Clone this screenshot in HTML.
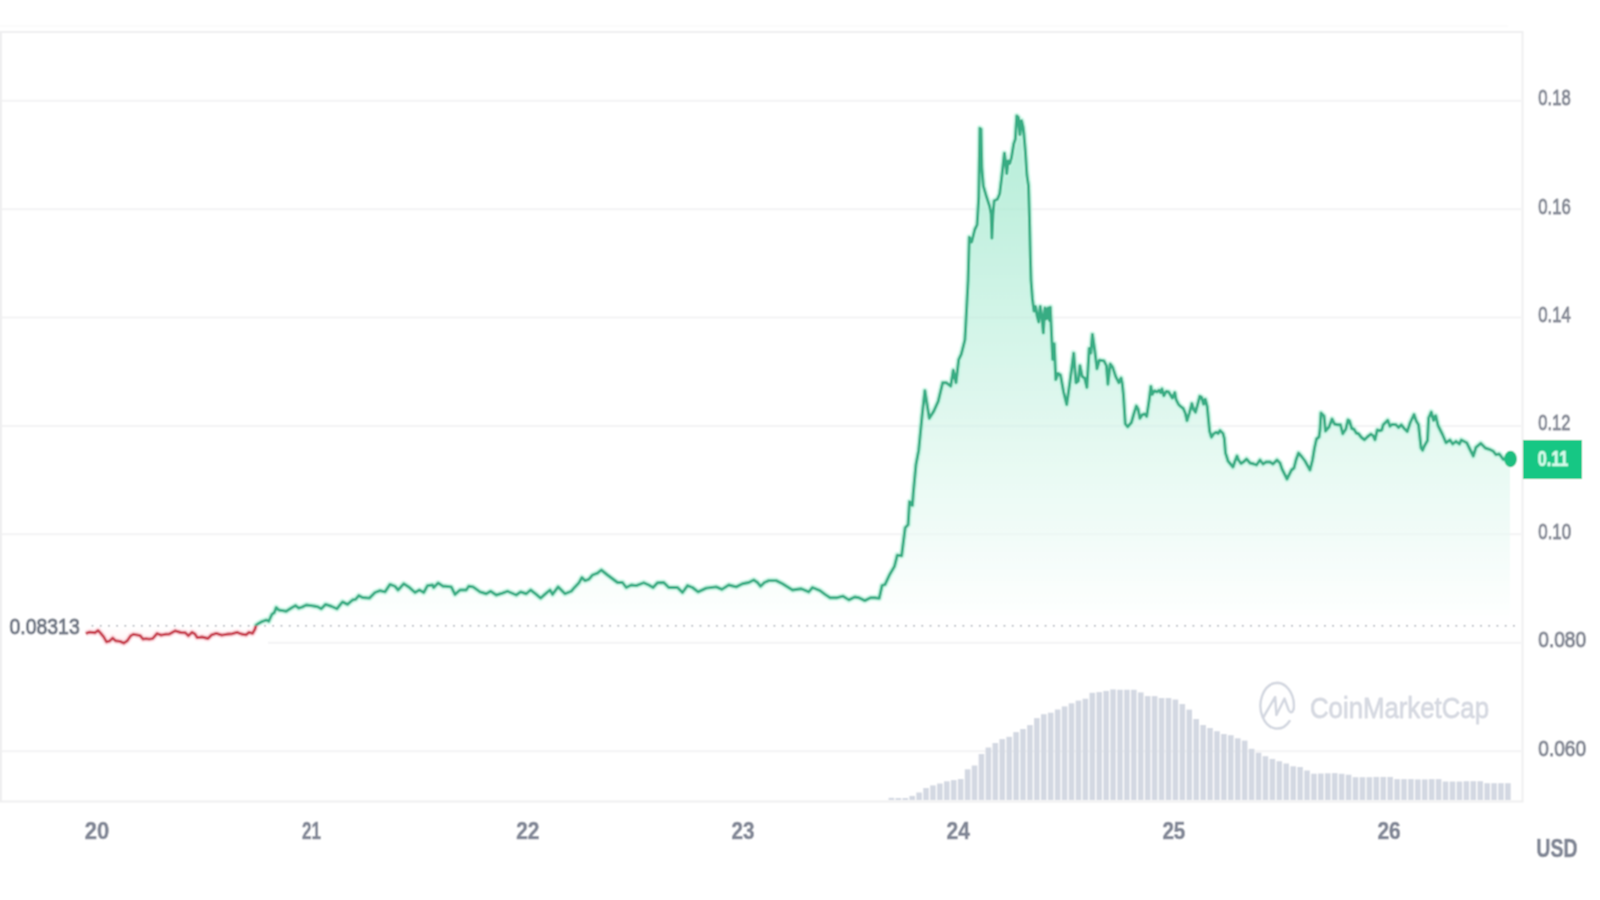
<!DOCTYPE html>
<html><head><meta charset="utf-8"><title>Price chart</title>
<style>
html,body{margin:0;padding:0;background:#fff;width:1600px;height:900px;overflow:hidden}
#wrap{width:1600px;height:900px}
svg{display:block;font-family:"Liberation Sans",Arial,sans-serif}
.grid line{stroke:#f3f3f4;stroke-width:2}
.frame{fill:none;stroke:#efeff0;stroke-width:2}
.vol rect{fill:#d3d8e2}
.yl text{fill:#858a96;stroke:#858a96}
.xl text{fill:#808695;stroke:#808695;font-weight:bold}
</style></head>
<body><div id="wrap">
<svg width="1600" height="900" viewBox="0 0 1600 900">
<defs>
<filter id="soft" x="0" y="0" width="1600" height="900" filterUnits="userSpaceOnUse"><feConvolveMatrix order="3" kernelMatrix="1 2 1 2 4 2 1 2 1" divisor="16" edgeMode="duplicate"/></filter>
<linearGradient id="gg" x1="0" y1="116" x2="0" y2="625.8" gradientUnits="userSpaceOnUse">
<stop offset="0" stop-color="#16c784" stop-opacity="0.32"/>
<stop offset="1" stop-color="#16c784" stop-opacity="0.0"/>
</linearGradient>
<linearGradient id="rg" x1="0" y1="625.8" x2="0" y2="645" gradientUnits="userSpaceOnUse">
<stop offset="0" stop-color="#ea3943" stop-opacity="0.0"/>
<stop offset="1" stop-color="#ea3943" stop-opacity="0.06"/>
</linearGradient>
<clipPath id="above"><rect x="0" y="0" width="1600" height="625.8"/></clipPath>
<clipPath id="below"><rect x="0" y="625.8" width="1600" height="300"/></clipPath>
</defs>
<g filter="url(#soft)">
<rect x="0" y="0" width="1600" height="900" fill="#fff"/>
<g class="grid">
<line x1="2" y1="100.75" x2="1521" y2="100.75"/>
<line x1="2" y1="209.15" x2="1521" y2="209.15"/>
<line x1="2" y1="317.55" x2="1521" y2="317.55"/>
<line x1="2" y1="425.95" x2="1521" y2="425.95"/>
<line x1="2" y1="534.35" x2="1521" y2="534.35"/>
<line x1="268" y1="642.75" x2="1521" y2="642.75"/>
<line x1="2" y1="751.15" x2="1521" y2="751.15"/>
</g>
<path class="frame" d="M1 32 H1522.5 V801.5 H1 Z"/>
<line x1="0" y1="26.2" x2="1508" y2="26.2" stroke="#f9f9f9" stroke-width="1.2"/>
<g class="vol">
<rect x="888.6" y="797.8" width="5.6" height="2.2"/>
<rect x="895.53" y="798" width="5.6" height="2"/>
<rect x="902.45" y="798" width="5.6" height="2"/>
<rect x="909.38" y="795.9" width="5.6" height="4.1"/>
<rect x="916.31" y="792.5" width="5.6" height="7.5"/>
<rect x="923.24" y="788" width="5.6" height="12"/>
<rect x="930.16" y="785.4" width="5.6" height="14.6"/>
<rect x="937.09" y="783.5" width="5.6" height="16.5"/>
<rect x="944.02" y="781.3" width="5.6" height="18.7"/>
<rect x="950.94" y="780.1" width="5.6" height="19.9"/>
<rect x="957.87" y="779" width="5.6" height="21"/>
<rect x="964.8" y="769.3" width="5.6" height="30.7"/>
<rect x="971.72" y="765.5" width="5.6" height="34.5"/>
<rect x="978.65" y="754" width="5.6" height="46"/>
<rect x="985.58" y="747.5" width="5.6" height="52.5"/>
<rect x="992.5" y="743" width="5.6" height="57"/>
<rect x="999.43" y="739.1" width="5.6" height="60.9"/>
<rect x="1006.36" y="736.8" width="5.6" height="63.2"/>
<rect x="1013.29" y="732.1" width="5.6" height="67.9"/>
<rect x="1020.21" y="729" width="5.6" height="71"/>
<rect x="1027.14" y="725.1" width="5.6" height="74.9"/>
<rect x="1034.07" y="718.1" width="5.6" height="81.9"/>
<rect x="1040.99" y="714.2" width="5.6" height="85.8"/>
<rect x="1047.92" y="712.7" width="5.6" height="87.3"/>
<rect x="1054.85" y="709.5" width="5.6" height="90.5"/>
<rect x="1061.78" y="706.4" width="5.6" height="93.6"/>
<rect x="1068.7" y="703.3" width="5.6" height="96.7"/>
<rect x="1075.63" y="700.6" width="5.6" height="99.4"/>
<rect x="1082.56" y="698.7" width="5.6" height="101.3"/>
<rect x="1089.48" y="692.8" width="5.6" height="107.2"/>
<rect x="1096.41" y="692.1" width="5.6" height="107.9"/>
<rect x="1103.34" y="690.9" width="5.6" height="109.1"/>
<rect x="1110.26" y="689.4" width="5.6" height="110.6"/>
<rect x="1117.19" y="689.75" width="5.6" height="110.25"/>
<rect x="1124.12" y="689.75" width="5.6" height="110.25"/>
<rect x="1131.05" y="689.75" width="5.6" height="110.25"/>
<rect x="1137.97" y="692.4" width="5.6" height="107.6"/>
<rect x="1144.9" y="696.1" width="5.6" height="103.9"/>
<rect x="1151.83" y="696.1" width="5.6" height="103.9"/>
<rect x="1158.75" y="698" width="5.6" height="102"/>
<rect x="1165.68" y="698" width="5.6" height="102"/>
<rect x="1172.61" y="699.5" width="5.6" height="100.5"/>
<rect x="1179.53" y="704" width="5.6" height="96"/>
<rect x="1186.46" y="709.6" width="5.6" height="90.4"/>
<rect x="1193.39" y="719" width="5.6" height="81"/>
<rect x="1200.32" y="725" width="5.6" height="75"/>
<rect x="1207.24" y="728" width="5.6" height="72"/>
<rect x="1214.17" y="731.2" width="5.6" height="68.8"/>
<rect x="1221.1" y="734" width="5.6" height="66"/>
<rect x="1228.02" y="735.2" width="5.6" height="64.8"/>
<rect x="1234.95" y="738.3" width="5.6" height="61.7"/>
<rect x="1241.88" y="740.6" width="5.6" height="59.4"/>
<rect x="1248.8" y="748.8" width="5.6" height="51.2"/>
<rect x="1255.73" y="752.7" width="5.6" height="47.3"/>
<rect x="1262.66" y="756.2" width="5.6" height="43.8"/>
<rect x="1269.59" y="758.9" width="5.6" height="41.1"/>
<rect x="1276.51" y="761.2" width="5.6" height="38.8"/>
<rect x="1283.44" y="763.5" width="5.6" height="36.5"/>
<rect x="1290.37" y="766.3" width="5.6" height="33.7"/>
<rect x="1297.29" y="767" width="5.6" height="33"/>
<rect x="1304.22" y="770.5" width="5.6" height="29.5"/>
<rect x="1311.15" y="773.7" width="5.6" height="26.3"/>
<rect x="1318.07" y="773.5" width="5.6" height="26.5"/>
<rect x="1325" y="773.3" width="5.6" height="26.7"/>
<rect x="1331.93" y="773.1" width="5.6" height="26.9"/>
<rect x="1338.86" y="773.75" width="5.6" height="26.25"/>
<rect x="1345.78" y="774.7" width="5.6" height="25.3"/>
<rect x="1352.71" y="777.2" width="5.6" height="22.8"/>
<rect x="1359.64" y="777.2" width="5.6" height="22.8"/>
<rect x="1366.56" y="777.2" width="5.6" height="22.8"/>
<rect x="1373.49" y="776.9" width="5.6" height="23.1"/>
<rect x="1380.42" y="776.9" width="5.6" height="23.1"/>
<rect x="1387.34" y="776.9" width="5.6" height="23.1"/>
<rect x="1394.27" y="779.1" width="5.6" height="20.9"/>
<rect x="1401.2" y="779.1" width="5.6" height="20.9"/>
<rect x="1408.12" y="779.1" width="5.6" height="20.9"/>
<rect x="1415.05" y="779.4" width="5.6" height="20.6"/>
<rect x="1421.98" y="779.4" width="5.6" height="20.6"/>
<rect x="1428.91" y="779.1" width="5.6" height="20.9"/>
<rect x="1435.83" y="779.1" width="5.6" height="20.9"/>
<rect x="1442.76" y="781.5" width="5.6" height="18.5"/>
<rect x="1449.69" y="781.5" width="5.6" height="18.5"/>
<rect x="1456.61" y="781.5" width="5.6" height="18.5"/>
<rect x="1463.54" y="781.2" width="5.6" height="18.8"/>
<rect x="1470.47" y="781.2" width="5.6" height="18.8"/>
<rect x="1477.39" y="781.2" width="5.6" height="18.8"/>
<rect x="1484.32" y="783.2" width="5.6" height="16.8"/>
<rect x="1491.25" y="783.2" width="5.6" height="16.8"/>
<rect x="1498.18" y="783.2" width="5.6" height="16.8"/>
<rect x="1505.1" y="783.2" width="5.6" height="16.8"/>
</g>
<g fill="none" stroke="#d3d7e0" stroke-width="2.5" stroke-linecap="round" stroke-linejoin="round">
<path d="M1289.6 720.95 A16.7 22.8 0 1 1 1293.7 708.9"/>
<path d="M1263.5 717 L1275.2 697 L1276.4 715 L1284.5 698.6 L1288.6 710 Q1290.5 713.5 1292.5 711.5 L1293.7 708.9"/>
</g>
<text transform="translate(1309.97 717.54) scale(0.8773 1)" font-size="29.38" stroke-width="0.88" stroke-linejoin="round" fill="#d6d9e1" stroke="#d6d9e1">CoinMarketCap</text>
<path d="M85.7 633.5 L89.6 632.1 L95.2 632.7 L98.1 630.4 L100.9 633.5 L103.7 636.9 L106.5 641.9 L109.9 640.8 L112.7 638 L115.5 640.8 L120 641.4 L123.9 643.1 L127.3 640.8 L130.7 635.7 L133.5 634.3 L138 635.2 L140.2 635.7 L143.1 639.1 L145.9 638.6 L149.2 639.1 L152.6 638.6 L157.1 633.5 L161.1 635.2 L165 634.3 L169.5 634.1 L175.3 630.8 L180.7 632.5 L185.4 632.8 L188.4 635.8 L192 632.3 L194.9 634 L197.3 637.6 L202.1 637 L208 638.5 L211.6 634.9 L216.3 633.4 L221.7 635.2 L226.4 634.3 L232.4 633.7 L237.1 632.3 L241.3 634 L246 634.9 L249 632.3 L252.5 633.4 L254.9 629.3 L256.1 625.1 L258.5 623.5 L261.25 621.9 L266.25 620 L268.75 621.25 L271.9 614.4 L274.4 612.5 L276.25 607.5 L278.75 610 L282.5 610.6 L286.25 611.25 L291.25 608.1 L295.6 605.6 L298.75 608.1 L302.5 606.9 L306.25 605 L311.25 605.6 L315 606.25 L318.1 606.9 L321.25 608.75 L325.6 604.4 L331.25 606.25 L336.9 608.75 L342.5 601.9 L347.5 604.4 L352.5 600 L355.6 599.4 L358.75 595.6 L362.5 597.5 L369.4 598.1 L375 592.5 L380 590.6 L385 591.9 L390 584.4 L395 586.25 L398.1 590 L403.75 583.75 L408.75 586.9 L415 592.5 L419.4 590 L423.75 592.5 L427.5 585.6 L432.5 585 L433.75 587.5 L438.1 583.1 L443.1 586.25 L445 586.25 L451.25 586.9 L455 594.4 L460 590 L466.25 590 L468.75 586.25 L473.1 586.9 L480 591.9 L486.25 593.75 L490.6 591.25 L496.25 595 L502.5 593.1 L507.5 591.25 L516.25 595 L520.6 591.9 L526.25 593.75 L530.6 590 L536.25 594.4 L540.6 598.1 L546.25 593.1 L550 590 L552.5 594.4 L558.1 586.9 L565 593.75 L571.25 591.25 L575 586.9 L578.75 583.1 L581.9 577.5 L585 580.6 L588.75 579.4 L592.5 575 L597.5 573.1 L601.25 570 L607.5 575 L617.5 582.5 L622.5 582.5 L626.25 587.5 L631.25 585 L636.25 585.6 L643.75 582.75 L648.75 585 L653.1 587.5 L657.5 582.75 L663.75 582.5 L668.75 587.5 L677.5 587.5 L682.5 592.5 L687.5 585.6 L692.5 587.5 L698.1 591.9 L706.25 588.1 L716.25 586.9 L721.9 589.4 L728.75 585 L736.25 586.9 L742.5 583.75 L748.75 582.5 L753.75 580 L757.5 582.5 L760.6 586.25 L764.4 582.5 L768.75 580.6 L776.25 580.6 L782.5 583.75 L792.5 590 L801.25 588.75 L808.75 591.9 L812.5 587.5 L820 590.6 L825 594.4 L830.1 597.7 L837.3 597.7 L843.1 596.2 L848.9 599.9 L854.7 597 L859 597.7 L864.8 600.6 L870.5 597.7 L874.9 597.7 L879.2 598.4 L882.1 585.4 L885 584.7 L889.3 575.3 L894.4 566.6 L897.3 555.1 L901.6 555.8 L905.2 527.7 L908.1 524.8 L909.5 501.7 L912.4 505.3 L913.3 492.9 L916 464.4 L918.7 450.2 L922.2 414.7 L924.9 390.7 L929.3 418.2 L933.8 411.1 L938.2 401.3 L942.7 382.7 L946.2 382.7 L950.7 386.2 L953.3 370.2 L956 382.7 L958.7 359.6 L961.3 354.2 L964.9 340 L965.6 327.8 L968.1 280.6 L969.3 237.3 L971.7 242 L974.8 229.5 L977.1 224.8 L978.7 198.4 L979.9 128.3 L981 129.1 L981.8 167.3 L983.3 185.9 L986.5 196.8 L989.6 206.2 L991.1 214 L991.9 238.1 L993 214 L994.2 200.7 L997.4 199.2 L999.7 193.7 L1002 175 L1004.4 153.2 L1005.9 164.1 L1006.7 173.5 L1008.2 161 L1009.8 163.4 L1011.4 157.9 L1013.7 143.9 L1015.3 139.2 L1016.8 115.9 L1018.4 117.5 L1019.9 134.6 L1021.5 120.6 L1023 126.8 L1023.8 133 L1025.4 151.7 L1026.9 175 L1028.5 185.9 L1029.5 220 L1030.3 255 L1031 280 L1032.4 298.7 L1034 311.1 L1035.6 306.5 L1037.1 315.8 L1038.7 322 L1040.2 306.5 L1041.8 315.8 L1043.3 332.9 L1044.9 308 L1046.5 318.9 L1048 308 L1049.6 320.5 L1050.3 307.2 L1051.9 342.2 L1052.7 359.4 L1054.2 343.8 L1055.8 379.6 L1058.1 373.4 L1060.5 374.9 L1063.6 392 L1066.7 404.5 L1069.8 382.7 L1073.7 353.1 L1076 382.7 L1078.3 381.1 L1079.9 365.6 L1082.2 376.5 L1084.6 378 L1086.9 387.4 L1089.2 348.5 L1090.8 353.1 L1092.4 334.5 L1094.7 350 L1097 368.7 L1099.4 360.1 L1104 360.9 L1106.4 365.6 L1107.9 384.2 L1110.2 364 L1112.6 367.1 L1115.7 376.5 L1118.8 382.7 L1121.1 378 L1122.2 383.4 L1123.4 394.4 L1125.3 423.8 L1127.7 426.8 L1131.4 422.5 L1133.8 414 L1136.3 406.1 L1138.1 409.1 L1139.9 418.3 L1142.4 414.6 L1144.8 414 L1146.7 416.4 L1149.1 400.6 L1150.9 386.5 L1152.2 394.4 L1154.6 390.8 L1157 392 L1158.9 390.2 L1160.7 392.6 L1161.9 388.9 L1163.8 395.7 L1166.2 391.4 L1168.7 392 L1172.3 398.1 L1174.8 392.6 L1176 399.3 L1178.4 404.2 L1180.9 406.7 L1183.3 408.5 L1185.2 412.8 L1187 420.7 L1189.4 412.8 L1191.9 403.6 L1193.7 409.7 L1195.5 412.2 L1197.4 405.4 L1199.8 396.3 L1201.7 397.5 L1203.5 404.2 L1205.3 399.3 L1207.2 406.7 L1208.4 418.9 L1209.6 431.1 L1211.4 437.2 L1213.9 433.5 L1216.3 432.3 L1218.2 433.5 L1220 430.5 L1223 433.5 L1224.3 438.4 L1225.5 453.1 L1226.5 456 L1228 461 L1233 467 L1235 461 L1237 456 L1238.5 460 L1241 463.5 L1244 461.5 L1246.5 459 L1250 463 L1254 464 L1256.5 465 L1260 460 L1263 464 L1266 462 L1270 462 L1273 464 L1277 460 L1280 463 L1282 469 L1287 479 L1290 473 L1291.5 470 L1294 468 L1296 460 L1298.5 453 L1302 457 L1305 461 L1310 470 L1312.5 460 L1314.5 448 L1316.5 439 L1319 437 L1320 430 L1321 413 L1324 416 L1325.5 431 L1329 427 L1332 419 L1334.5 424 L1337.5 424.75 L1340.5 424.75 L1342.75 433.75 L1345.75 429.25 L1348 419.9 L1349.5 421 L1351.75 428.5 L1354 429.25 L1356.25 433 L1358.5 433.75 L1361.5 437.5 L1364.5 439.75 L1367.5 436.75 L1370.9 434.1 L1373.1 435.6 L1375 439.75 L1377.25 430 L1379.5 430.75 L1381.75 430 L1383.25 424.75 L1387.75 420.25 L1390 426.25 L1392.25 424.4 L1396 424.75 L1398.6 427.4 L1401.25 424.75 L1404.25 428.5 L1407.25 431.5 L1410.25 422.5 L1414 414.6 L1416.25 421 L1418.5 424.75 L1420 438.25 L1421.1 448 L1422.6 450.25 L1424.5 445.75 L1427.5 440.5 L1428.6 418 L1431.25 412 L1433.5 420.25 L1435.75 415.75 L1438 425.5 L1442.5 434.5 L1446 442.7 L1450 440 L1452.7 444 L1456 441.3 L1459.3 444 L1461.3 440 L1466.7 442.7 L1469.3 448 L1473.3 456 L1476 447.3 L1480.7 443.3 L1485.3 448 L1489.3 449.3 L1493.3 451.3 L1496 454.7 L1499.3 454 L1503.3 459.3 L1510 459 L1510 625.8 L85.7 625.8 Z" fill="#fff" opacity="0.5" clip-path="url(#above)"/>
<path d="M85.7 633.5 L89.6 632.1 L95.2 632.7 L98.1 630.4 L100.9 633.5 L103.7 636.9 L106.5 641.9 L109.9 640.8 L112.7 638 L115.5 640.8 L120 641.4 L123.9 643.1 L127.3 640.8 L130.7 635.7 L133.5 634.3 L138 635.2 L140.2 635.7 L143.1 639.1 L145.9 638.6 L149.2 639.1 L152.6 638.6 L157.1 633.5 L161.1 635.2 L165 634.3 L169.5 634.1 L175.3 630.8 L180.7 632.5 L185.4 632.8 L188.4 635.8 L192 632.3 L194.9 634 L197.3 637.6 L202.1 637 L208 638.5 L211.6 634.9 L216.3 633.4 L221.7 635.2 L226.4 634.3 L232.4 633.7 L237.1 632.3 L241.3 634 L246 634.9 L249 632.3 L252.5 633.4 L254.9 629.3 L256.1 625.1 L258.5 623.5 L261.25 621.9 L266.25 620 L268.75 621.25 L271.9 614.4 L274.4 612.5 L276.25 607.5 L278.75 610 L282.5 610.6 L286.25 611.25 L291.25 608.1 L295.6 605.6 L298.75 608.1 L302.5 606.9 L306.25 605 L311.25 605.6 L315 606.25 L318.1 606.9 L321.25 608.75 L325.6 604.4 L331.25 606.25 L336.9 608.75 L342.5 601.9 L347.5 604.4 L352.5 600 L355.6 599.4 L358.75 595.6 L362.5 597.5 L369.4 598.1 L375 592.5 L380 590.6 L385 591.9 L390 584.4 L395 586.25 L398.1 590 L403.75 583.75 L408.75 586.9 L415 592.5 L419.4 590 L423.75 592.5 L427.5 585.6 L432.5 585 L433.75 587.5 L438.1 583.1 L443.1 586.25 L445 586.25 L451.25 586.9 L455 594.4 L460 590 L466.25 590 L468.75 586.25 L473.1 586.9 L480 591.9 L486.25 593.75 L490.6 591.25 L496.25 595 L502.5 593.1 L507.5 591.25 L516.25 595 L520.6 591.9 L526.25 593.75 L530.6 590 L536.25 594.4 L540.6 598.1 L546.25 593.1 L550 590 L552.5 594.4 L558.1 586.9 L565 593.75 L571.25 591.25 L575 586.9 L578.75 583.1 L581.9 577.5 L585 580.6 L588.75 579.4 L592.5 575 L597.5 573.1 L601.25 570 L607.5 575 L617.5 582.5 L622.5 582.5 L626.25 587.5 L631.25 585 L636.25 585.6 L643.75 582.75 L648.75 585 L653.1 587.5 L657.5 582.75 L663.75 582.5 L668.75 587.5 L677.5 587.5 L682.5 592.5 L687.5 585.6 L692.5 587.5 L698.1 591.9 L706.25 588.1 L716.25 586.9 L721.9 589.4 L728.75 585 L736.25 586.9 L742.5 583.75 L748.75 582.5 L753.75 580 L757.5 582.5 L760.6 586.25 L764.4 582.5 L768.75 580.6 L776.25 580.6 L782.5 583.75 L792.5 590 L801.25 588.75 L808.75 591.9 L812.5 587.5 L820 590.6 L825 594.4 L830.1 597.7 L837.3 597.7 L843.1 596.2 L848.9 599.9 L854.7 597 L859 597.7 L864.8 600.6 L870.5 597.7 L874.9 597.7 L879.2 598.4 L882.1 585.4 L885 584.7 L889.3 575.3 L894.4 566.6 L897.3 555.1 L901.6 555.8 L905.2 527.7 L908.1 524.8 L909.5 501.7 L912.4 505.3 L913.3 492.9 L916 464.4 L918.7 450.2 L922.2 414.7 L924.9 390.7 L929.3 418.2 L933.8 411.1 L938.2 401.3 L942.7 382.7 L946.2 382.7 L950.7 386.2 L953.3 370.2 L956 382.7 L958.7 359.6 L961.3 354.2 L964.9 340 L965.6 327.8 L968.1 280.6 L969.3 237.3 L971.7 242 L974.8 229.5 L977.1 224.8 L978.7 198.4 L979.9 128.3 L981 129.1 L981.8 167.3 L983.3 185.9 L986.5 196.8 L989.6 206.2 L991.1 214 L991.9 238.1 L993 214 L994.2 200.7 L997.4 199.2 L999.7 193.7 L1002 175 L1004.4 153.2 L1005.9 164.1 L1006.7 173.5 L1008.2 161 L1009.8 163.4 L1011.4 157.9 L1013.7 143.9 L1015.3 139.2 L1016.8 115.9 L1018.4 117.5 L1019.9 134.6 L1021.5 120.6 L1023 126.8 L1023.8 133 L1025.4 151.7 L1026.9 175 L1028.5 185.9 L1029.5 220 L1030.3 255 L1031 280 L1032.4 298.7 L1034 311.1 L1035.6 306.5 L1037.1 315.8 L1038.7 322 L1040.2 306.5 L1041.8 315.8 L1043.3 332.9 L1044.9 308 L1046.5 318.9 L1048 308 L1049.6 320.5 L1050.3 307.2 L1051.9 342.2 L1052.7 359.4 L1054.2 343.8 L1055.8 379.6 L1058.1 373.4 L1060.5 374.9 L1063.6 392 L1066.7 404.5 L1069.8 382.7 L1073.7 353.1 L1076 382.7 L1078.3 381.1 L1079.9 365.6 L1082.2 376.5 L1084.6 378 L1086.9 387.4 L1089.2 348.5 L1090.8 353.1 L1092.4 334.5 L1094.7 350 L1097 368.7 L1099.4 360.1 L1104 360.9 L1106.4 365.6 L1107.9 384.2 L1110.2 364 L1112.6 367.1 L1115.7 376.5 L1118.8 382.7 L1121.1 378 L1122.2 383.4 L1123.4 394.4 L1125.3 423.8 L1127.7 426.8 L1131.4 422.5 L1133.8 414 L1136.3 406.1 L1138.1 409.1 L1139.9 418.3 L1142.4 414.6 L1144.8 414 L1146.7 416.4 L1149.1 400.6 L1150.9 386.5 L1152.2 394.4 L1154.6 390.8 L1157 392 L1158.9 390.2 L1160.7 392.6 L1161.9 388.9 L1163.8 395.7 L1166.2 391.4 L1168.7 392 L1172.3 398.1 L1174.8 392.6 L1176 399.3 L1178.4 404.2 L1180.9 406.7 L1183.3 408.5 L1185.2 412.8 L1187 420.7 L1189.4 412.8 L1191.9 403.6 L1193.7 409.7 L1195.5 412.2 L1197.4 405.4 L1199.8 396.3 L1201.7 397.5 L1203.5 404.2 L1205.3 399.3 L1207.2 406.7 L1208.4 418.9 L1209.6 431.1 L1211.4 437.2 L1213.9 433.5 L1216.3 432.3 L1218.2 433.5 L1220 430.5 L1223 433.5 L1224.3 438.4 L1225.5 453.1 L1226.5 456 L1228 461 L1233 467 L1235 461 L1237 456 L1238.5 460 L1241 463.5 L1244 461.5 L1246.5 459 L1250 463 L1254 464 L1256.5 465 L1260 460 L1263 464 L1266 462 L1270 462 L1273 464 L1277 460 L1280 463 L1282 469 L1287 479 L1290 473 L1291.5 470 L1294 468 L1296 460 L1298.5 453 L1302 457 L1305 461 L1310 470 L1312.5 460 L1314.5 448 L1316.5 439 L1319 437 L1320 430 L1321 413 L1324 416 L1325.5 431 L1329 427 L1332 419 L1334.5 424 L1337.5 424.75 L1340.5 424.75 L1342.75 433.75 L1345.75 429.25 L1348 419.9 L1349.5 421 L1351.75 428.5 L1354 429.25 L1356.25 433 L1358.5 433.75 L1361.5 437.5 L1364.5 439.75 L1367.5 436.75 L1370.9 434.1 L1373.1 435.6 L1375 439.75 L1377.25 430 L1379.5 430.75 L1381.75 430 L1383.25 424.75 L1387.75 420.25 L1390 426.25 L1392.25 424.4 L1396 424.75 L1398.6 427.4 L1401.25 424.75 L1404.25 428.5 L1407.25 431.5 L1410.25 422.5 L1414 414.6 L1416.25 421 L1418.5 424.75 L1420 438.25 L1421.1 448 L1422.6 450.25 L1424.5 445.75 L1427.5 440.5 L1428.6 418 L1431.25 412 L1433.5 420.25 L1435.75 415.75 L1438 425.5 L1442.5 434.5 L1446 442.7 L1450 440 L1452.7 444 L1456 441.3 L1459.3 444 L1461.3 440 L1466.7 442.7 L1469.3 448 L1473.3 456 L1476 447.3 L1480.7 443.3 L1485.3 448 L1489.3 449.3 L1493.3 451.3 L1496 454.7 L1499.3 454 L1503.3 459.3 L1510 459 L1510 625.8 L85.7 625.8 Z" fill="url(#gg)" clip-path="url(#above)"/>
<path d="M85.7 633.5 L89.6 632.1 L95.2 632.7 L98.1 630.4 L100.9 633.5 L103.7 636.9 L106.5 641.9 L109.9 640.8 L112.7 638 L115.5 640.8 L120 641.4 L123.9 643.1 L127.3 640.8 L130.7 635.7 L133.5 634.3 L138 635.2 L140.2 635.7 L143.1 639.1 L145.9 638.6 L149.2 639.1 L152.6 638.6 L157.1 633.5 L161.1 635.2 L165 634.3 L169.5 634.1 L175.3 630.8 L180.7 632.5 L185.4 632.8 L188.4 635.8 L192 632.3 L194.9 634 L197.3 637.6 L202.1 637 L208 638.5 L211.6 634.9 L216.3 633.4 L221.7 635.2 L226.4 634.3 L232.4 633.7 L237.1 632.3 L241.3 634 L246 634.9 L249 632.3 L252.5 633.4 L254.9 629.3 L256.1 625.1 L258.5 623.5 L261.25 621.9 L266.25 620 L268.75 621.25 L271.9 614.4 L274.4 612.5 L276.25 607.5 L278.75 610 L282.5 610.6 L286.25 611.25 L291.25 608.1 L295.6 605.6 L298.75 608.1 L302.5 606.9 L306.25 605 L311.25 605.6 L315 606.25 L318.1 606.9 L321.25 608.75 L325.6 604.4 L331.25 606.25 L336.9 608.75 L342.5 601.9 L347.5 604.4 L352.5 600 L355.6 599.4 L358.75 595.6 L362.5 597.5 L369.4 598.1 L375 592.5 L380 590.6 L385 591.9 L390 584.4 L395 586.25 L398.1 590 L403.75 583.75 L408.75 586.9 L415 592.5 L419.4 590 L423.75 592.5 L427.5 585.6 L432.5 585 L433.75 587.5 L438.1 583.1 L443.1 586.25 L445 586.25 L451.25 586.9 L455 594.4 L460 590 L466.25 590 L468.75 586.25 L473.1 586.9 L480 591.9 L486.25 593.75 L490.6 591.25 L496.25 595 L502.5 593.1 L507.5 591.25 L516.25 595 L520.6 591.9 L526.25 593.75 L530.6 590 L536.25 594.4 L540.6 598.1 L546.25 593.1 L550 590 L552.5 594.4 L558.1 586.9 L565 593.75 L571.25 591.25 L575 586.9 L578.75 583.1 L581.9 577.5 L585 580.6 L588.75 579.4 L592.5 575 L597.5 573.1 L601.25 570 L607.5 575 L617.5 582.5 L622.5 582.5 L626.25 587.5 L631.25 585 L636.25 585.6 L643.75 582.75 L648.75 585 L653.1 587.5 L657.5 582.75 L663.75 582.5 L668.75 587.5 L677.5 587.5 L682.5 592.5 L687.5 585.6 L692.5 587.5 L698.1 591.9 L706.25 588.1 L716.25 586.9 L721.9 589.4 L728.75 585 L736.25 586.9 L742.5 583.75 L748.75 582.5 L753.75 580 L757.5 582.5 L760.6 586.25 L764.4 582.5 L768.75 580.6 L776.25 580.6 L782.5 583.75 L792.5 590 L801.25 588.75 L808.75 591.9 L812.5 587.5 L820 590.6 L825 594.4 L830.1 597.7 L837.3 597.7 L843.1 596.2 L848.9 599.9 L854.7 597 L859 597.7 L864.8 600.6 L870.5 597.7 L874.9 597.7 L879.2 598.4 L882.1 585.4 L885 584.7 L889.3 575.3 L894.4 566.6 L897.3 555.1 L901.6 555.8 L905.2 527.7 L908.1 524.8 L909.5 501.7 L912.4 505.3 L913.3 492.9 L916 464.4 L918.7 450.2 L922.2 414.7 L924.9 390.7 L929.3 418.2 L933.8 411.1 L938.2 401.3 L942.7 382.7 L946.2 382.7 L950.7 386.2 L953.3 370.2 L956 382.7 L958.7 359.6 L961.3 354.2 L964.9 340 L965.6 327.8 L968.1 280.6 L969.3 237.3 L971.7 242 L974.8 229.5 L977.1 224.8 L978.7 198.4 L979.9 128.3 L981 129.1 L981.8 167.3 L983.3 185.9 L986.5 196.8 L989.6 206.2 L991.1 214 L991.9 238.1 L993 214 L994.2 200.7 L997.4 199.2 L999.7 193.7 L1002 175 L1004.4 153.2 L1005.9 164.1 L1006.7 173.5 L1008.2 161 L1009.8 163.4 L1011.4 157.9 L1013.7 143.9 L1015.3 139.2 L1016.8 115.9 L1018.4 117.5 L1019.9 134.6 L1021.5 120.6 L1023 126.8 L1023.8 133 L1025.4 151.7 L1026.9 175 L1028.5 185.9 L1029.5 220 L1030.3 255 L1031 280 L1032.4 298.7 L1034 311.1 L1035.6 306.5 L1037.1 315.8 L1038.7 322 L1040.2 306.5 L1041.8 315.8 L1043.3 332.9 L1044.9 308 L1046.5 318.9 L1048 308 L1049.6 320.5 L1050.3 307.2 L1051.9 342.2 L1052.7 359.4 L1054.2 343.8 L1055.8 379.6 L1058.1 373.4 L1060.5 374.9 L1063.6 392 L1066.7 404.5 L1069.8 382.7 L1073.7 353.1 L1076 382.7 L1078.3 381.1 L1079.9 365.6 L1082.2 376.5 L1084.6 378 L1086.9 387.4 L1089.2 348.5 L1090.8 353.1 L1092.4 334.5 L1094.7 350 L1097 368.7 L1099.4 360.1 L1104 360.9 L1106.4 365.6 L1107.9 384.2 L1110.2 364 L1112.6 367.1 L1115.7 376.5 L1118.8 382.7 L1121.1 378 L1122.2 383.4 L1123.4 394.4 L1125.3 423.8 L1127.7 426.8 L1131.4 422.5 L1133.8 414 L1136.3 406.1 L1138.1 409.1 L1139.9 418.3 L1142.4 414.6 L1144.8 414 L1146.7 416.4 L1149.1 400.6 L1150.9 386.5 L1152.2 394.4 L1154.6 390.8 L1157 392 L1158.9 390.2 L1160.7 392.6 L1161.9 388.9 L1163.8 395.7 L1166.2 391.4 L1168.7 392 L1172.3 398.1 L1174.8 392.6 L1176 399.3 L1178.4 404.2 L1180.9 406.7 L1183.3 408.5 L1185.2 412.8 L1187 420.7 L1189.4 412.8 L1191.9 403.6 L1193.7 409.7 L1195.5 412.2 L1197.4 405.4 L1199.8 396.3 L1201.7 397.5 L1203.5 404.2 L1205.3 399.3 L1207.2 406.7 L1208.4 418.9 L1209.6 431.1 L1211.4 437.2 L1213.9 433.5 L1216.3 432.3 L1218.2 433.5 L1220 430.5 L1223 433.5 L1224.3 438.4 L1225.5 453.1 L1226.5 456 L1228 461 L1233 467 L1235 461 L1237 456 L1238.5 460 L1241 463.5 L1244 461.5 L1246.5 459 L1250 463 L1254 464 L1256.5 465 L1260 460 L1263 464 L1266 462 L1270 462 L1273 464 L1277 460 L1280 463 L1282 469 L1287 479 L1290 473 L1291.5 470 L1294 468 L1296 460 L1298.5 453 L1302 457 L1305 461 L1310 470 L1312.5 460 L1314.5 448 L1316.5 439 L1319 437 L1320 430 L1321 413 L1324 416 L1325.5 431 L1329 427 L1332 419 L1334.5 424 L1337.5 424.75 L1340.5 424.75 L1342.75 433.75 L1345.75 429.25 L1348 419.9 L1349.5 421 L1351.75 428.5 L1354 429.25 L1356.25 433 L1358.5 433.75 L1361.5 437.5 L1364.5 439.75 L1367.5 436.75 L1370.9 434.1 L1373.1 435.6 L1375 439.75 L1377.25 430 L1379.5 430.75 L1381.75 430 L1383.25 424.75 L1387.75 420.25 L1390 426.25 L1392.25 424.4 L1396 424.75 L1398.6 427.4 L1401.25 424.75 L1404.25 428.5 L1407.25 431.5 L1410.25 422.5 L1414 414.6 L1416.25 421 L1418.5 424.75 L1420 438.25 L1421.1 448 L1422.6 450.25 L1424.5 445.75 L1427.5 440.5 L1428.6 418 L1431.25 412 L1433.5 420.25 L1435.75 415.75 L1438 425.5 L1442.5 434.5 L1446 442.7 L1450 440 L1452.7 444 L1456 441.3 L1459.3 444 L1461.3 440 L1466.7 442.7 L1469.3 448 L1473.3 456 L1476 447.3 L1480.7 443.3 L1485.3 448 L1489.3 449.3 L1493.3 451.3 L1496 454.7 L1499.3 454 L1503.3 459.3 L1510 459 L1510 625.8 L85.7 625.8 Z" fill="url(#rg)" clip-path="url(#below)"/>
<line x1="91.7" y1="625.8" x2="1515" y2="625.8" stroke="#9aa0aa" stroke-width="1.6" stroke-dasharray="1.6 6.616"/>
<path d="M85.7 633.5 L89.6 632.1 L95.2 632.7 L98.1 630.4 L100.9 633.5 L103.7 636.9 L106.5 641.9 L109.9 640.8 L112.7 638 L115.5 640.8 L120 641.4 L123.9 643.1 L127.3 640.8 L130.7 635.7 L133.5 634.3 L138 635.2 L140.2 635.7 L143.1 639.1 L145.9 638.6 L149.2 639.1 L152.6 638.6 L157.1 633.5 L161.1 635.2 L165 634.3 L169.5 634.1 L175.3 630.8 L180.7 632.5 L185.4 632.8 L188.4 635.8 L192 632.3 L194.9 634 L197.3 637.6 L202.1 637 L208 638.5 L211.6 634.9 L216.3 633.4 L221.7 635.2 L226.4 634.3 L232.4 633.7 L237.1 632.3 L241.3 634 L246 634.9 L249 632.3 L252.5 633.4 L254.9 629.3 L256.1 625.1 L258.5 623.5 L261.25 621.9 L266.25 620 L268.75 621.25 L271.9 614.4 L274.4 612.5 L276.25 607.5 L278.75 610 L282.5 610.6 L286.25 611.25 L291.25 608.1 L295.6 605.6 L298.75 608.1 L302.5 606.9 L306.25 605 L311.25 605.6 L315 606.25 L318.1 606.9 L321.25 608.75 L325.6 604.4 L331.25 606.25 L336.9 608.75 L342.5 601.9 L347.5 604.4 L352.5 600 L355.6 599.4 L358.75 595.6 L362.5 597.5 L369.4 598.1 L375 592.5 L380 590.6 L385 591.9 L390 584.4 L395 586.25 L398.1 590 L403.75 583.75 L408.75 586.9 L415 592.5 L419.4 590 L423.75 592.5 L427.5 585.6 L432.5 585 L433.75 587.5 L438.1 583.1 L443.1 586.25 L445 586.25 L451.25 586.9 L455 594.4 L460 590 L466.25 590 L468.75 586.25 L473.1 586.9 L480 591.9 L486.25 593.75 L490.6 591.25 L496.25 595 L502.5 593.1 L507.5 591.25 L516.25 595 L520.6 591.9 L526.25 593.75 L530.6 590 L536.25 594.4 L540.6 598.1 L546.25 593.1 L550 590 L552.5 594.4 L558.1 586.9 L565 593.75 L571.25 591.25 L575 586.9 L578.75 583.1 L581.9 577.5 L585 580.6 L588.75 579.4 L592.5 575 L597.5 573.1 L601.25 570 L607.5 575 L617.5 582.5 L622.5 582.5 L626.25 587.5 L631.25 585 L636.25 585.6 L643.75 582.75 L648.75 585 L653.1 587.5 L657.5 582.75 L663.75 582.5 L668.75 587.5 L677.5 587.5 L682.5 592.5 L687.5 585.6 L692.5 587.5 L698.1 591.9 L706.25 588.1 L716.25 586.9 L721.9 589.4 L728.75 585 L736.25 586.9 L742.5 583.75 L748.75 582.5 L753.75 580 L757.5 582.5 L760.6 586.25 L764.4 582.5 L768.75 580.6 L776.25 580.6 L782.5 583.75 L792.5 590 L801.25 588.75 L808.75 591.9 L812.5 587.5 L820 590.6 L825 594.4 L830.1 597.7 L837.3 597.7 L843.1 596.2 L848.9 599.9 L854.7 597 L859 597.7 L864.8 600.6 L870.5 597.7 L874.9 597.7 L879.2 598.4 L882.1 585.4 L885 584.7 L889.3 575.3 L894.4 566.6 L897.3 555.1 L901.6 555.8 L905.2 527.7 L908.1 524.8 L909.5 501.7 L912.4 505.3 L913.3 492.9 L916 464.4 L918.7 450.2 L922.2 414.7 L924.9 390.7 L929.3 418.2 L933.8 411.1 L938.2 401.3 L942.7 382.7 L946.2 382.7 L950.7 386.2 L953.3 370.2 L956 382.7 L958.7 359.6 L961.3 354.2 L964.9 340 L965.6 327.8 L968.1 280.6 L969.3 237.3 L971.7 242 L974.8 229.5 L977.1 224.8 L978.7 198.4 L979.9 128.3 L981 129.1 L981.8 167.3 L983.3 185.9 L986.5 196.8 L989.6 206.2 L991.1 214 L991.9 238.1 L993 214 L994.2 200.7 L997.4 199.2 L999.7 193.7 L1002 175 L1004.4 153.2 L1005.9 164.1 L1006.7 173.5 L1008.2 161 L1009.8 163.4 L1011.4 157.9 L1013.7 143.9 L1015.3 139.2 L1016.8 115.9 L1018.4 117.5 L1019.9 134.6 L1021.5 120.6 L1023 126.8 L1023.8 133 L1025.4 151.7 L1026.9 175 L1028.5 185.9 L1029.5 220 L1030.3 255 L1031 280 L1032.4 298.7 L1034 311.1 L1035.6 306.5 L1037.1 315.8 L1038.7 322 L1040.2 306.5 L1041.8 315.8 L1043.3 332.9 L1044.9 308 L1046.5 318.9 L1048 308 L1049.6 320.5 L1050.3 307.2 L1051.9 342.2 L1052.7 359.4 L1054.2 343.8 L1055.8 379.6 L1058.1 373.4 L1060.5 374.9 L1063.6 392 L1066.7 404.5 L1069.8 382.7 L1073.7 353.1 L1076 382.7 L1078.3 381.1 L1079.9 365.6 L1082.2 376.5 L1084.6 378 L1086.9 387.4 L1089.2 348.5 L1090.8 353.1 L1092.4 334.5 L1094.7 350 L1097 368.7 L1099.4 360.1 L1104 360.9 L1106.4 365.6 L1107.9 384.2 L1110.2 364 L1112.6 367.1 L1115.7 376.5 L1118.8 382.7 L1121.1 378 L1122.2 383.4 L1123.4 394.4 L1125.3 423.8 L1127.7 426.8 L1131.4 422.5 L1133.8 414 L1136.3 406.1 L1138.1 409.1 L1139.9 418.3 L1142.4 414.6 L1144.8 414 L1146.7 416.4 L1149.1 400.6 L1150.9 386.5 L1152.2 394.4 L1154.6 390.8 L1157 392 L1158.9 390.2 L1160.7 392.6 L1161.9 388.9 L1163.8 395.7 L1166.2 391.4 L1168.7 392 L1172.3 398.1 L1174.8 392.6 L1176 399.3 L1178.4 404.2 L1180.9 406.7 L1183.3 408.5 L1185.2 412.8 L1187 420.7 L1189.4 412.8 L1191.9 403.6 L1193.7 409.7 L1195.5 412.2 L1197.4 405.4 L1199.8 396.3 L1201.7 397.5 L1203.5 404.2 L1205.3 399.3 L1207.2 406.7 L1208.4 418.9 L1209.6 431.1 L1211.4 437.2 L1213.9 433.5 L1216.3 432.3 L1218.2 433.5 L1220 430.5 L1223 433.5 L1224.3 438.4 L1225.5 453.1 L1226.5 456 L1228 461 L1233 467 L1235 461 L1237 456 L1238.5 460 L1241 463.5 L1244 461.5 L1246.5 459 L1250 463 L1254 464 L1256.5 465 L1260 460 L1263 464 L1266 462 L1270 462 L1273 464 L1277 460 L1280 463 L1282 469 L1287 479 L1290 473 L1291.5 470 L1294 468 L1296 460 L1298.5 453 L1302 457 L1305 461 L1310 470 L1312.5 460 L1314.5 448 L1316.5 439 L1319 437 L1320 430 L1321 413 L1324 416 L1325.5 431 L1329 427 L1332 419 L1334.5 424 L1337.5 424.75 L1340.5 424.75 L1342.75 433.75 L1345.75 429.25 L1348 419.9 L1349.5 421 L1351.75 428.5 L1354 429.25 L1356.25 433 L1358.5 433.75 L1361.5 437.5 L1364.5 439.75 L1367.5 436.75 L1370.9 434.1 L1373.1 435.6 L1375 439.75 L1377.25 430 L1379.5 430.75 L1381.75 430 L1383.25 424.75 L1387.75 420.25 L1390 426.25 L1392.25 424.4 L1396 424.75 L1398.6 427.4 L1401.25 424.75 L1404.25 428.5 L1407.25 431.5 L1410.25 422.5 L1414 414.6 L1416.25 421 L1418.5 424.75 L1420 438.25 L1421.1 448 L1422.6 450.25 L1424.5 445.75 L1427.5 440.5 L1428.6 418 L1431.25 412 L1433.5 420.25 L1435.75 415.75 L1438 425.5 L1442.5 434.5 L1446 442.7 L1450 440 L1452.7 444 L1456 441.3 L1459.3 444 L1461.3 440 L1466.7 442.7 L1469.3 448 L1473.3 456 L1476 447.3 L1480.7 443.3 L1485.3 448 L1489.3 449.3 L1493.3 451.3 L1496 454.7 L1499.3 454 L1503.3 459.3 L1510 459" fill="none" stroke="#c2f6e2" stroke-width="6.5" stroke-linejoin="round" opacity="0.7" clip-path="url(#above)"/>
<path d="M85.7 633.5 L89.6 632.1 L95.2 632.7 L98.1 630.4 L100.9 633.5 L103.7 636.9 L106.5 641.9 L109.9 640.8 L112.7 638 L115.5 640.8 L120 641.4 L123.9 643.1 L127.3 640.8 L130.7 635.7 L133.5 634.3 L138 635.2 L140.2 635.7 L143.1 639.1 L145.9 638.6 L149.2 639.1 L152.6 638.6 L157.1 633.5 L161.1 635.2 L165 634.3 L169.5 634.1 L175.3 630.8 L180.7 632.5 L185.4 632.8 L188.4 635.8 L192 632.3 L194.9 634 L197.3 637.6 L202.1 637 L208 638.5 L211.6 634.9 L216.3 633.4 L221.7 635.2 L226.4 634.3 L232.4 633.7 L237.1 632.3 L241.3 634 L246 634.9 L249 632.3 L252.5 633.4 L254.9 629.3 L256.1 625.1 L258.5 623.5 L261.25 621.9 L266.25 620 L268.75 621.25 L271.9 614.4 L274.4 612.5 L276.25 607.5 L278.75 610 L282.5 610.6 L286.25 611.25 L291.25 608.1 L295.6 605.6 L298.75 608.1 L302.5 606.9 L306.25 605 L311.25 605.6 L315 606.25 L318.1 606.9 L321.25 608.75 L325.6 604.4 L331.25 606.25 L336.9 608.75 L342.5 601.9 L347.5 604.4 L352.5 600 L355.6 599.4 L358.75 595.6 L362.5 597.5 L369.4 598.1 L375 592.5 L380 590.6 L385 591.9 L390 584.4 L395 586.25 L398.1 590 L403.75 583.75 L408.75 586.9 L415 592.5 L419.4 590 L423.75 592.5 L427.5 585.6 L432.5 585 L433.75 587.5 L438.1 583.1 L443.1 586.25 L445 586.25 L451.25 586.9 L455 594.4 L460 590 L466.25 590 L468.75 586.25 L473.1 586.9 L480 591.9 L486.25 593.75 L490.6 591.25 L496.25 595 L502.5 593.1 L507.5 591.25 L516.25 595 L520.6 591.9 L526.25 593.75 L530.6 590 L536.25 594.4 L540.6 598.1 L546.25 593.1 L550 590 L552.5 594.4 L558.1 586.9 L565 593.75 L571.25 591.25 L575 586.9 L578.75 583.1 L581.9 577.5 L585 580.6 L588.75 579.4 L592.5 575 L597.5 573.1 L601.25 570 L607.5 575 L617.5 582.5 L622.5 582.5 L626.25 587.5 L631.25 585 L636.25 585.6 L643.75 582.75 L648.75 585 L653.1 587.5 L657.5 582.75 L663.75 582.5 L668.75 587.5 L677.5 587.5 L682.5 592.5 L687.5 585.6 L692.5 587.5 L698.1 591.9 L706.25 588.1 L716.25 586.9 L721.9 589.4 L728.75 585 L736.25 586.9 L742.5 583.75 L748.75 582.5 L753.75 580 L757.5 582.5 L760.6 586.25 L764.4 582.5 L768.75 580.6 L776.25 580.6 L782.5 583.75 L792.5 590 L801.25 588.75 L808.75 591.9 L812.5 587.5 L820 590.6 L825 594.4 L830.1 597.7 L837.3 597.7 L843.1 596.2 L848.9 599.9 L854.7 597 L859 597.7 L864.8 600.6 L870.5 597.7 L874.9 597.7 L879.2 598.4 L882.1 585.4 L885 584.7 L889.3 575.3 L894.4 566.6 L897.3 555.1 L901.6 555.8 L905.2 527.7 L908.1 524.8 L909.5 501.7 L912.4 505.3 L913.3 492.9 L916 464.4 L918.7 450.2 L922.2 414.7 L924.9 390.7 L929.3 418.2 L933.8 411.1 L938.2 401.3 L942.7 382.7 L946.2 382.7 L950.7 386.2 L953.3 370.2 L956 382.7 L958.7 359.6 L961.3 354.2 L964.9 340 L965.6 327.8 L968.1 280.6 L969.3 237.3 L971.7 242 L974.8 229.5 L977.1 224.8 L978.7 198.4 L979.9 128.3 L981 129.1 L981.8 167.3 L983.3 185.9 L986.5 196.8 L989.6 206.2 L991.1 214 L991.9 238.1 L993 214 L994.2 200.7 L997.4 199.2 L999.7 193.7 L1002 175 L1004.4 153.2 L1005.9 164.1 L1006.7 173.5 L1008.2 161 L1009.8 163.4 L1011.4 157.9 L1013.7 143.9 L1015.3 139.2 L1016.8 115.9 L1018.4 117.5 L1019.9 134.6 L1021.5 120.6 L1023 126.8 L1023.8 133 L1025.4 151.7 L1026.9 175 L1028.5 185.9 L1029.5 220 L1030.3 255 L1031 280 L1032.4 298.7 L1034 311.1 L1035.6 306.5 L1037.1 315.8 L1038.7 322 L1040.2 306.5 L1041.8 315.8 L1043.3 332.9 L1044.9 308 L1046.5 318.9 L1048 308 L1049.6 320.5 L1050.3 307.2 L1051.9 342.2 L1052.7 359.4 L1054.2 343.8 L1055.8 379.6 L1058.1 373.4 L1060.5 374.9 L1063.6 392 L1066.7 404.5 L1069.8 382.7 L1073.7 353.1 L1076 382.7 L1078.3 381.1 L1079.9 365.6 L1082.2 376.5 L1084.6 378 L1086.9 387.4 L1089.2 348.5 L1090.8 353.1 L1092.4 334.5 L1094.7 350 L1097 368.7 L1099.4 360.1 L1104 360.9 L1106.4 365.6 L1107.9 384.2 L1110.2 364 L1112.6 367.1 L1115.7 376.5 L1118.8 382.7 L1121.1 378 L1122.2 383.4 L1123.4 394.4 L1125.3 423.8 L1127.7 426.8 L1131.4 422.5 L1133.8 414 L1136.3 406.1 L1138.1 409.1 L1139.9 418.3 L1142.4 414.6 L1144.8 414 L1146.7 416.4 L1149.1 400.6 L1150.9 386.5 L1152.2 394.4 L1154.6 390.8 L1157 392 L1158.9 390.2 L1160.7 392.6 L1161.9 388.9 L1163.8 395.7 L1166.2 391.4 L1168.7 392 L1172.3 398.1 L1174.8 392.6 L1176 399.3 L1178.4 404.2 L1180.9 406.7 L1183.3 408.5 L1185.2 412.8 L1187 420.7 L1189.4 412.8 L1191.9 403.6 L1193.7 409.7 L1195.5 412.2 L1197.4 405.4 L1199.8 396.3 L1201.7 397.5 L1203.5 404.2 L1205.3 399.3 L1207.2 406.7 L1208.4 418.9 L1209.6 431.1 L1211.4 437.2 L1213.9 433.5 L1216.3 432.3 L1218.2 433.5 L1220 430.5 L1223 433.5 L1224.3 438.4 L1225.5 453.1 L1226.5 456 L1228 461 L1233 467 L1235 461 L1237 456 L1238.5 460 L1241 463.5 L1244 461.5 L1246.5 459 L1250 463 L1254 464 L1256.5 465 L1260 460 L1263 464 L1266 462 L1270 462 L1273 464 L1277 460 L1280 463 L1282 469 L1287 479 L1290 473 L1291.5 470 L1294 468 L1296 460 L1298.5 453 L1302 457 L1305 461 L1310 470 L1312.5 460 L1314.5 448 L1316.5 439 L1319 437 L1320 430 L1321 413 L1324 416 L1325.5 431 L1329 427 L1332 419 L1334.5 424 L1337.5 424.75 L1340.5 424.75 L1342.75 433.75 L1345.75 429.25 L1348 419.9 L1349.5 421 L1351.75 428.5 L1354 429.25 L1356.25 433 L1358.5 433.75 L1361.5 437.5 L1364.5 439.75 L1367.5 436.75 L1370.9 434.1 L1373.1 435.6 L1375 439.75 L1377.25 430 L1379.5 430.75 L1381.75 430 L1383.25 424.75 L1387.75 420.25 L1390 426.25 L1392.25 424.4 L1396 424.75 L1398.6 427.4 L1401.25 424.75 L1404.25 428.5 L1407.25 431.5 L1410.25 422.5 L1414 414.6 L1416.25 421 L1418.5 424.75 L1420 438.25 L1421.1 448 L1422.6 450.25 L1424.5 445.75 L1427.5 440.5 L1428.6 418 L1431.25 412 L1433.5 420.25 L1435.75 415.75 L1438 425.5 L1442.5 434.5 L1446 442.7 L1450 440 L1452.7 444 L1456 441.3 L1459.3 444 L1461.3 440 L1466.7 442.7 L1469.3 448 L1473.3 456 L1476 447.3 L1480.7 443.3 L1485.3 448 L1489.3 449.3 L1493.3 451.3 L1496 454.7 L1499.3 454 L1503.3 459.3 L1510 459" fill="none" stroke="#ffd9df" stroke-width="6.5" stroke-linejoin="round" opacity="0.7" clip-path="url(#below)"/>
<path d="M85.7 633.5 L89.6 632.1 L95.2 632.7 L98.1 630.4 L100.9 633.5 L103.7 636.9 L106.5 641.9 L109.9 640.8 L112.7 638 L115.5 640.8 L120 641.4 L123.9 643.1 L127.3 640.8 L130.7 635.7 L133.5 634.3 L138 635.2 L140.2 635.7 L143.1 639.1 L145.9 638.6 L149.2 639.1 L152.6 638.6 L157.1 633.5 L161.1 635.2 L165 634.3 L169.5 634.1 L175.3 630.8 L180.7 632.5 L185.4 632.8 L188.4 635.8 L192 632.3 L194.9 634 L197.3 637.6 L202.1 637 L208 638.5 L211.6 634.9 L216.3 633.4 L221.7 635.2 L226.4 634.3 L232.4 633.7 L237.1 632.3 L241.3 634 L246 634.9 L249 632.3 L252.5 633.4 L254.9 629.3 L256.1 625.1 L258.5 623.5 L261.25 621.9 L266.25 620 L268.75 621.25 L271.9 614.4 L274.4 612.5 L276.25 607.5 L278.75 610 L282.5 610.6 L286.25 611.25 L291.25 608.1 L295.6 605.6 L298.75 608.1 L302.5 606.9 L306.25 605 L311.25 605.6 L315 606.25 L318.1 606.9 L321.25 608.75 L325.6 604.4 L331.25 606.25 L336.9 608.75 L342.5 601.9 L347.5 604.4 L352.5 600 L355.6 599.4 L358.75 595.6 L362.5 597.5 L369.4 598.1 L375 592.5 L380 590.6 L385 591.9 L390 584.4 L395 586.25 L398.1 590 L403.75 583.75 L408.75 586.9 L415 592.5 L419.4 590 L423.75 592.5 L427.5 585.6 L432.5 585 L433.75 587.5 L438.1 583.1 L443.1 586.25 L445 586.25 L451.25 586.9 L455 594.4 L460 590 L466.25 590 L468.75 586.25 L473.1 586.9 L480 591.9 L486.25 593.75 L490.6 591.25 L496.25 595 L502.5 593.1 L507.5 591.25 L516.25 595 L520.6 591.9 L526.25 593.75 L530.6 590 L536.25 594.4 L540.6 598.1 L546.25 593.1 L550 590 L552.5 594.4 L558.1 586.9 L565 593.75 L571.25 591.25 L575 586.9 L578.75 583.1 L581.9 577.5 L585 580.6 L588.75 579.4 L592.5 575 L597.5 573.1 L601.25 570 L607.5 575 L617.5 582.5 L622.5 582.5 L626.25 587.5 L631.25 585 L636.25 585.6 L643.75 582.75 L648.75 585 L653.1 587.5 L657.5 582.75 L663.75 582.5 L668.75 587.5 L677.5 587.5 L682.5 592.5 L687.5 585.6 L692.5 587.5 L698.1 591.9 L706.25 588.1 L716.25 586.9 L721.9 589.4 L728.75 585 L736.25 586.9 L742.5 583.75 L748.75 582.5 L753.75 580 L757.5 582.5 L760.6 586.25 L764.4 582.5 L768.75 580.6 L776.25 580.6 L782.5 583.75 L792.5 590 L801.25 588.75 L808.75 591.9 L812.5 587.5 L820 590.6 L825 594.4 L830.1 597.7 L837.3 597.7 L843.1 596.2 L848.9 599.9 L854.7 597 L859 597.7 L864.8 600.6 L870.5 597.7 L874.9 597.7 L879.2 598.4 L882.1 585.4 L885 584.7 L889.3 575.3 L894.4 566.6 L897.3 555.1 L901.6 555.8 L905.2 527.7 L908.1 524.8 L909.5 501.7 L912.4 505.3 L913.3 492.9 L916 464.4 L918.7 450.2 L922.2 414.7 L924.9 390.7 L929.3 418.2 L933.8 411.1 L938.2 401.3 L942.7 382.7 L946.2 382.7 L950.7 386.2 L953.3 370.2 L956 382.7 L958.7 359.6 L961.3 354.2 L964.9 340 L965.6 327.8 L968.1 280.6 L969.3 237.3 L971.7 242 L974.8 229.5 L977.1 224.8 L978.7 198.4 L979.9 128.3 L981 129.1 L981.8 167.3 L983.3 185.9 L986.5 196.8 L989.6 206.2 L991.1 214 L991.9 238.1 L993 214 L994.2 200.7 L997.4 199.2 L999.7 193.7 L1002 175 L1004.4 153.2 L1005.9 164.1 L1006.7 173.5 L1008.2 161 L1009.8 163.4 L1011.4 157.9 L1013.7 143.9 L1015.3 139.2 L1016.8 115.9 L1018.4 117.5 L1019.9 134.6 L1021.5 120.6 L1023 126.8 L1023.8 133 L1025.4 151.7 L1026.9 175 L1028.5 185.9 L1029.5 220 L1030.3 255 L1031 280 L1032.4 298.7 L1034 311.1 L1035.6 306.5 L1037.1 315.8 L1038.7 322 L1040.2 306.5 L1041.8 315.8 L1043.3 332.9 L1044.9 308 L1046.5 318.9 L1048 308 L1049.6 320.5 L1050.3 307.2 L1051.9 342.2 L1052.7 359.4 L1054.2 343.8 L1055.8 379.6 L1058.1 373.4 L1060.5 374.9 L1063.6 392 L1066.7 404.5 L1069.8 382.7 L1073.7 353.1 L1076 382.7 L1078.3 381.1 L1079.9 365.6 L1082.2 376.5 L1084.6 378 L1086.9 387.4 L1089.2 348.5 L1090.8 353.1 L1092.4 334.5 L1094.7 350 L1097 368.7 L1099.4 360.1 L1104 360.9 L1106.4 365.6 L1107.9 384.2 L1110.2 364 L1112.6 367.1 L1115.7 376.5 L1118.8 382.7 L1121.1 378 L1122.2 383.4 L1123.4 394.4 L1125.3 423.8 L1127.7 426.8 L1131.4 422.5 L1133.8 414 L1136.3 406.1 L1138.1 409.1 L1139.9 418.3 L1142.4 414.6 L1144.8 414 L1146.7 416.4 L1149.1 400.6 L1150.9 386.5 L1152.2 394.4 L1154.6 390.8 L1157 392 L1158.9 390.2 L1160.7 392.6 L1161.9 388.9 L1163.8 395.7 L1166.2 391.4 L1168.7 392 L1172.3 398.1 L1174.8 392.6 L1176 399.3 L1178.4 404.2 L1180.9 406.7 L1183.3 408.5 L1185.2 412.8 L1187 420.7 L1189.4 412.8 L1191.9 403.6 L1193.7 409.7 L1195.5 412.2 L1197.4 405.4 L1199.8 396.3 L1201.7 397.5 L1203.5 404.2 L1205.3 399.3 L1207.2 406.7 L1208.4 418.9 L1209.6 431.1 L1211.4 437.2 L1213.9 433.5 L1216.3 432.3 L1218.2 433.5 L1220 430.5 L1223 433.5 L1224.3 438.4 L1225.5 453.1 L1226.5 456 L1228 461 L1233 467 L1235 461 L1237 456 L1238.5 460 L1241 463.5 L1244 461.5 L1246.5 459 L1250 463 L1254 464 L1256.5 465 L1260 460 L1263 464 L1266 462 L1270 462 L1273 464 L1277 460 L1280 463 L1282 469 L1287 479 L1290 473 L1291.5 470 L1294 468 L1296 460 L1298.5 453 L1302 457 L1305 461 L1310 470 L1312.5 460 L1314.5 448 L1316.5 439 L1319 437 L1320 430 L1321 413 L1324 416 L1325.5 431 L1329 427 L1332 419 L1334.5 424 L1337.5 424.75 L1340.5 424.75 L1342.75 433.75 L1345.75 429.25 L1348 419.9 L1349.5 421 L1351.75 428.5 L1354 429.25 L1356.25 433 L1358.5 433.75 L1361.5 437.5 L1364.5 439.75 L1367.5 436.75 L1370.9 434.1 L1373.1 435.6 L1375 439.75 L1377.25 430 L1379.5 430.75 L1381.75 430 L1383.25 424.75 L1387.75 420.25 L1390 426.25 L1392.25 424.4 L1396 424.75 L1398.6 427.4 L1401.25 424.75 L1404.25 428.5 L1407.25 431.5 L1410.25 422.5 L1414 414.6 L1416.25 421 L1418.5 424.75 L1420 438.25 L1421.1 448 L1422.6 450.25 L1424.5 445.75 L1427.5 440.5 L1428.6 418 L1431.25 412 L1433.5 420.25 L1435.75 415.75 L1438 425.5 L1442.5 434.5 L1446 442.7 L1450 440 L1452.7 444 L1456 441.3 L1459.3 444 L1461.3 440 L1466.7 442.7 L1469.3 448 L1473.3 456 L1476 447.3 L1480.7 443.3 L1485.3 448 L1489.3 449.3 L1493.3 451.3 L1496 454.7 L1499.3 454 L1503.3 459.3 L1510 459" fill="none" stroke="#37ac83" stroke-width="2.9" stroke-linejoin="round" clip-path="url(#above)"/>
<path d="M85.7 633.5 L89.6 632.1 L95.2 632.7 L98.1 630.4 L100.9 633.5 L103.7 636.9 L106.5 641.9 L109.9 640.8 L112.7 638 L115.5 640.8 L120 641.4 L123.9 643.1 L127.3 640.8 L130.7 635.7 L133.5 634.3 L138 635.2 L140.2 635.7 L143.1 639.1 L145.9 638.6 L149.2 639.1 L152.6 638.6 L157.1 633.5 L161.1 635.2 L165 634.3 L169.5 634.1 L175.3 630.8 L180.7 632.5 L185.4 632.8 L188.4 635.8 L192 632.3 L194.9 634 L197.3 637.6 L202.1 637 L208 638.5 L211.6 634.9 L216.3 633.4 L221.7 635.2 L226.4 634.3 L232.4 633.7 L237.1 632.3 L241.3 634 L246 634.9 L249 632.3 L252.5 633.4 L254.9 629.3 L256.1 625.1 L258.5 623.5 L261.25 621.9 L266.25 620 L268.75 621.25 L271.9 614.4 L274.4 612.5 L276.25 607.5 L278.75 610 L282.5 610.6 L286.25 611.25 L291.25 608.1 L295.6 605.6 L298.75 608.1 L302.5 606.9 L306.25 605 L311.25 605.6 L315 606.25 L318.1 606.9 L321.25 608.75 L325.6 604.4 L331.25 606.25 L336.9 608.75 L342.5 601.9 L347.5 604.4 L352.5 600 L355.6 599.4 L358.75 595.6 L362.5 597.5 L369.4 598.1 L375 592.5 L380 590.6 L385 591.9 L390 584.4 L395 586.25 L398.1 590 L403.75 583.75 L408.75 586.9 L415 592.5 L419.4 590 L423.75 592.5 L427.5 585.6 L432.5 585 L433.75 587.5 L438.1 583.1 L443.1 586.25 L445 586.25 L451.25 586.9 L455 594.4 L460 590 L466.25 590 L468.75 586.25 L473.1 586.9 L480 591.9 L486.25 593.75 L490.6 591.25 L496.25 595 L502.5 593.1 L507.5 591.25 L516.25 595 L520.6 591.9 L526.25 593.75 L530.6 590 L536.25 594.4 L540.6 598.1 L546.25 593.1 L550 590 L552.5 594.4 L558.1 586.9 L565 593.75 L571.25 591.25 L575 586.9 L578.75 583.1 L581.9 577.5 L585 580.6 L588.75 579.4 L592.5 575 L597.5 573.1 L601.25 570 L607.5 575 L617.5 582.5 L622.5 582.5 L626.25 587.5 L631.25 585 L636.25 585.6 L643.75 582.75 L648.75 585 L653.1 587.5 L657.5 582.75 L663.75 582.5 L668.75 587.5 L677.5 587.5 L682.5 592.5 L687.5 585.6 L692.5 587.5 L698.1 591.9 L706.25 588.1 L716.25 586.9 L721.9 589.4 L728.75 585 L736.25 586.9 L742.5 583.75 L748.75 582.5 L753.75 580 L757.5 582.5 L760.6 586.25 L764.4 582.5 L768.75 580.6 L776.25 580.6 L782.5 583.75 L792.5 590 L801.25 588.75 L808.75 591.9 L812.5 587.5 L820 590.6 L825 594.4 L830.1 597.7 L837.3 597.7 L843.1 596.2 L848.9 599.9 L854.7 597 L859 597.7 L864.8 600.6 L870.5 597.7 L874.9 597.7 L879.2 598.4 L882.1 585.4 L885 584.7 L889.3 575.3 L894.4 566.6 L897.3 555.1 L901.6 555.8 L905.2 527.7 L908.1 524.8 L909.5 501.7 L912.4 505.3 L913.3 492.9 L916 464.4 L918.7 450.2 L922.2 414.7 L924.9 390.7 L929.3 418.2 L933.8 411.1 L938.2 401.3 L942.7 382.7 L946.2 382.7 L950.7 386.2 L953.3 370.2 L956 382.7 L958.7 359.6 L961.3 354.2 L964.9 340 L965.6 327.8 L968.1 280.6 L969.3 237.3 L971.7 242 L974.8 229.5 L977.1 224.8 L978.7 198.4 L979.9 128.3 L981 129.1 L981.8 167.3 L983.3 185.9 L986.5 196.8 L989.6 206.2 L991.1 214 L991.9 238.1 L993 214 L994.2 200.7 L997.4 199.2 L999.7 193.7 L1002 175 L1004.4 153.2 L1005.9 164.1 L1006.7 173.5 L1008.2 161 L1009.8 163.4 L1011.4 157.9 L1013.7 143.9 L1015.3 139.2 L1016.8 115.9 L1018.4 117.5 L1019.9 134.6 L1021.5 120.6 L1023 126.8 L1023.8 133 L1025.4 151.7 L1026.9 175 L1028.5 185.9 L1029.5 220 L1030.3 255 L1031 280 L1032.4 298.7 L1034 311.1 L1035.6 306.5 L1037.1 315.8 L1038.7 322 L1040.2 306.5 L1041.8 315.8 L1043.3 332.9 L1044.9 308 L1046.5 318.9 L1048 308 L1049.6 320.5 L1050.3 307.2 L1051.9 342.2 L1052.7 359.4 L1054.2 343.8 L1055.8 379.6 L1058.1 373.4 L1060.5 374.9 L1063.6 392 L1066.7 404.5 L1069.8 382.7 L1073.7 353.1 L1076 382.7 L1078.3 381.1 L1079.9 365.6 L1082.2 376.5 L1084.6 378 L1086.9 387.4 L1089.2 348.5 L1090.8 353.1 L1092.4 334.5 L1094.7 350 L1097 368.7 L1099.4 360.1 L1104 360.9 L1106.4 365.6 L1107.9 384.2 L1110.2 364 L1112.6 367.1 L1115.7 376.5 L1118.8 382.7 L1121.1 378 L1122.2 383.4 L1123.4 394.4 L1125.3 423.8 L1127.7 426.8 L1131.4 422.5 L1133.8 414 L1136.3 406.1 L1138.1 409.1 L1139.9 418.3 L1142.4 414.6 L1144.8 414 L1146.7 416.4 L1149.1 400.6 L1150.9 386.5 L1152.2 394.4 L1154.6 390.8 L1157 392 L1158.9 390.2 L1160.7 392.6 L1161.9 388.9 L1163.8 395.7 L1166.2 391.4 L1168.7 392 L1172.3 398.1 L1174.8 392.6 L1176 399.3 L1178.4 404.2 L1180.9 406.7 L1183.3 408.5 L1185.2 412.8 L1187 420.7 L1189.4 412.8 L1191.9 403.6 L1193.7 409.7 L1195.5 412.2 L1197.4 405.4 L1199.8 396.3 L1201.7 397.5 L1203.5 404.2 L1205.3 399.3 L1207.2 406.7 L1208.4 418.9 L1209.6 431.1 L1211.4 437.2 L1213.9 433.5 L1216.3 432.3 L1218.2 433.5 L1220 430.5 L1223 433.5 L1224.3 438.4 L1225.5 453.1 L1226.5 456 L1228 461 L1233 467 L1235 461 L1237 456 L1238.5 460 L1241 463.5 L1244 461.5 L1246.5 459 L1250 463 L1254 464 L1256.5 465 L1260 460 L1263 464 L1266 462 L1270 462 L1273 464 L1277 460 L1280 463 L1282 469 L1287 479 L1290 473 L1291.5 470 L1294 468 L1296 460 L1298.5 453 L1302 457 L1305 461 L1310 470 L1312.5 460 L1314.5 448 L1316.5 439 L1319 437 L1320 430 L1321 413 L1324 416 L1325.5 431 L1329 427 L1332 419 L1334.5 424 L1337.5 424.75 L1340.5 424.75 L1342.75 433.75 L1345.75 429.25 L1348 419.9 L1349.5 421 L1351.75 428.5 L1354 429.25 L1356.25 433 L1358.5 433.75 L1361.5 437.5 L1364.5 439.75 L1367.5 436.75 L1370.9 434.1 L1373.1 435.6 L1375 439.75 L1377.25 430 L1379.5 430.75 L1381.75 430 L1383.25 424.75 L1387.75 420.25 L1390 426.25 L1392.25 424.4 L1396 424.75 L1398.6 427.4 L1401.25 424.75 L1404.25 428.5 L1407.25 431.5 L1410.25 422.5 L1414 414.6 L1416.25 421 L1418.5 424.75 L1420 438.25 L1421.1 448 L1422.6 450.25 L1424.5 445.75 L1427.5 440.5 L1428.6 418 L1431.25 412 L1433.5 420.25 L1435.75 415.75 L1438 425.5 L1442.5 434.5 L1446 442.7 L1450 440 L1452.7 444 L1456 441.3 L1459.3 444 L1461.3 440 L1466.7 442.7 L1469.3 448 L1473.3 456 L1476 447.3 L1480.7 443.3 L1485.3 448 L1489.3 449.3 L1493.3 451.3 L1496 454.7 L1499.3 454 L1503.3 459.3 L1510 459" fill="none" stroke="#c8404f" stroke-width="2.9" stroke-linejoin="round" clip-path="url(#below)"/>
<ellipse cx="1510.5" cy="459" rx="6.4" ry="8.3" fill="#1fbf80"/>
<g class="yl">
<text transform="translate(1538.33 105.14) scale(0.7576 1)" font-size="22.00" stroke-width="1.10" stroke-linejoin="round">0.18</text>
<text transform="translate(1538.33 213.54) scale(0.7599 1)" font-size="22.00" stroke-width="1.10" stroke-linejoin="round">0.16</text>
<text transform="translate(1538.33 321.94) scale(0.7599 1)" font-size="22.00" stroke-width="1.10" stroke-linejoin="round">0.14</text>
<text transform="translate(1538.33 430.34) scale(0.7505 1)" font-size="22.00" stroke-width="1.10" stroke-linejoin="round">0.12</text>
<text transform="translate(1538.33 538.74) scale(0.7647 1)" font-size="22.00" stroke-width="1.10" stroke-linejoin="round">0.10</text>
<text transform="translate(1538.31 647.14) scale(0.8688 1)" font-size="22.00" stroke-width="1.10" stroke-linejoin="round">0.080</text>
<text transform="translate(1538.31 755.54) scale(0.8669 1)" font-size="22.00" stroke-width="1.10" stroke-linejoin="round">0.060</text>
</g>
<rect x="1523" y="440" width="59" height="39" fill="#16c784"/>
<text transform="translate(1537.68 465.85) scale(0.7272 1)" font-size="22.33" stroke-width="0.67" stroke-linejoin="round" font-weight="bold" fill="#d2fbea" stroke="#d2fbea">0.11</text>
<text transform="translate(9.56 634.34) scale(0.8824 1)" font-size="22.00" stroke-width="1.10" stroke-linejoin="round" fill="#737a87" stroke="#737a87">0.08313</text>
<g class="xl">
<text transform="translate(84.76 839.14) scale(0.9495 1)" font-size="23.15" stroke-width="0.58" stroke-linejoin="round">20</text>
<text transform="translate(301.96 839.14) scale(0.7376 1)" font-size="23.15" stroke-width="0.58" stroke-linejoin="round">21</text>
<text transform="translate(516.28 839.14) scale(0.9006 1)" font-size="23.15" stroke-width="0.58" stroke-linejoin="round">22</text>
<text transform="translate(731.49 839.14) scale(0.8924 1)" font-size="23.15" stroke-width="0.58" stroke-linejoin="round">23</text>
<text transform="translate(946.58 839.14) scale(0.9087 1)" font-size="23.15" stroke-width="0.58" stroke-linejoin="round">24</text>
<text transform="translate(1162.39 839.14) scale(0.8924 1)" font-size="23.15" stroke-width="0.58" stroke-linejoin="round">25</text>
<text transform="translate(1377.48 839.14) scale(0.9047 1)" font-size="23.15" stroke-width="0.58" stroke-linejoin="round">26</text>
</g>
<text transform="translate(1536.32 857.49) scale(0.7698 1)" font-size="25.34" stroke-width="0.63" stroke-linejoin="round" font-weight="bold" fill="#808695" stroke="#808695">USD</text>
</g>
</svg>
</div></body></html>
